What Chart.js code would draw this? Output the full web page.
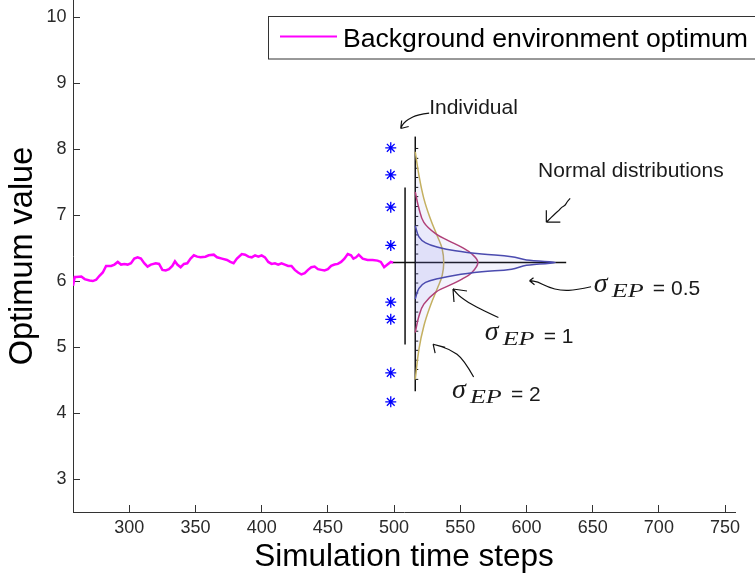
<!DOCTYPE html>
<html>
<head>
<meta charset="utf-8">
<script src="https://cdn.jsdelivr.net/npm/chart.js@4.4.1/dist/chart.umd.min.js"></script>
<style>
html, body { margin: 0; padding: 0; background: #fff; }
canvas { display: block; }
</style>
</head>
<body>
<canvas id="chart" width="755" height="579"></canvas>
<script>
// axis ticks
const xTicks = [300, 350, 400, 450, 500, 550, 600, 650, 700, 750];
const yTicks = [3, 4, 5, 6, 7, 8, 9, 10];

// background environment optimum (random walk)
const optimumX = [257.5, 258.8, 260, 263.8, 266.3, 270, 272.5, 275, 277.5, 280, 282.5, 286.3, 288.8, 291.3, 293.8, 296.3,
    298.8, 301.3, 303.8, 306.3, 308.8, 311.3, 313.8, 316.3, 320, 322.5, 325, 327.5, 330, 332.5, 334.5, 336.3, 338.8,
    341.3, 343.8, 346.3, 348.8, 351.3, 353.8, 357.5, 360, 363.8, 366.3, 370, 373.8, 376.3, 378.8, 381.3, 385, 387.5,
    390, 392.5, 395, 397.5, 400, 402.5, 405, 407.5, 410, 412.5, 415, 417.5, 420, 422.5, 425, 427.5, 430, 432.5, 435,
    437.5, 440, 442.5, 445, 447.5, 450, 452.5, 455, 457.5, 460, 462.5, 465, 467.5, 469.3, 471.3, 473.3, 476.3, 480,
    483.8, 487.5, 490, 492.5, 495, 497.5, 499.3];
const optimumY = [5.93, 6.06, 6.06, 6.07, 6.03, 6.01, 6.0, 6.02, 6.08, 6.13, 6.23, 6.23, 6.25, 6.29, 6.25, 6.26,
    6.25, 6.27, 6.34, 6.36, 6.34, 6.27, 6.22, 6.25, 6.27, 6.26, 6.17, 6.16, 6.18, 6.23, 6.3, 6.25, 6.21,
    6.26, 6.27, 6.34, 6.39, 6.37, 6.36, 6.37, 6.39, 6.4, 6.36, 6.34, 6.32, 6.29, 6.27, 6.34, 6.41, 6.4,
    6.37, 6.36, 6.39, 6.37, 6.39, 6.36, 6.29, 6.26, 6.27, 6.25, 6.27, 6.25, 6.23, 6.23, 6.17, 6.13, 6.1, 6.12, 6.17,
    6.21, 6.22, 6.18, 6.17, 6.16, 6.18, 6.23, 6.25, 6.26, 6.29, 6.34, 6.41, 6.39, 6.34, 6.36, 6.4, 6.34, 6.32,
    6.32, 6.31, 6.29, 6.21, 6.25, 6.29, 6.28];

// individuals
const individualX = 497.5;
const individualY = [8.02, 7.61, 7.12, 6.54, 5.68, 5.42, 4.61, 4.17];

// normal distributions drawn sideways on the inset axis
const sigma05X = [516, 518.8, 523.8, 533.8, 546.3, 566.3, 588.8, 600, 621.8, 600, 588.8, 566.3, 546.3, 533.8, 523.8, 518.8, 516];
const sigma05Y = [6.84, 6.67, 6.58, 6.51, 6.46, 6.41, 6.37, 6.32, 6.28, 6.24, 6.18, 6.14, 6.09, 6.04, 5.98, 5.89, 5.73];
const sigma1X = [516, 518.8, 522.5, 531.3, 541.3, 551.3, 558.8, 563.3, 558.8, 551.3, 541.3, 531.3, 522.5, 518.8, 516];
const sigma1Y = [7.35, 7.1, 6.89, 6.72, 6.61, 6.51, 6.41, 6.28, 6.13, 6.03, 5.93, 5.83, 5.65, 5.47, 5.22];
const sigma2X = [516, 518.8, 522.5, 527.5, 532.5, 536.3, 537.5, 536.3, 532.5, 527.5, 522.5, 518.8, 516];
const sigma2Y = [7.96, 7.6, 7.25, 6.94, 6.69, 6.49, 6.28, 6.08, 5.88, 5.63, 5.32, 4.97, 4.51];

// inset axes
const insetAxisX = 516;
const insetAxisY = [4.33, 8.19];
const insetTickY = [8.01, 7.86, 7.71, 7.57, 7.42, 7.28, 7.13, 6.98, 6.84, 6.7, 6.55, 6.41, 6.11, 5.97, 5.82, 5.68,
    5.53, 5.39, 5.24, 5.09, 4.95, 4.8, 4.66, 4.51];
const meanLineX = [498.8, 630];
const meanLineY = 6.28;
const rangeLineX = 508.3;
const rangeLineY = [5.04, 7.42];

// annotations (data units)
const arrowIndividual = [[526.5, 8.545], [517.5, 8.522], [510.8, 8.454], [507.0, 8.393], [505.0, 8.312]];
const arrowNormal = [[633.0, 7.253], [630.5, 7.2], [629.5, 7.15], [626.5, 7.12], [624.5, 7.07], [622.5, 7.04], [615.0, 6.892]];
const arrowSigma05 = [[648.8, 5.914], [637.5, 5.864], [626.3, 5.854], [616.5, 5.907], [608.3, 5.99], [602.3, 6.006]];
const arrowSigma1 = [[578.8, 5.448], [562.5, 5.6], [550.0, 5.752], [544.5, 5.88]];
const arrowSigma2 = [[560.1, 4.546], [552.6, 4.815], [542.5, 4.967], [529.5, 5.043]];
const sigmaLabels = [
    { x: 650.9, y: 5.793, value: '0.5' },
    { x: 568.4, y: 5.063, value: '1' },
    { x: 543.7, y: 4.181, value: '2' }
];

const pts = (xs, ys) => xs.map((x, i) => ({ x: x, y: ys[i] }));
const fixedLine = (p, color) => ({
    data: p, borderColor: color, borderWidth: 1.5, pointRadius: 0, tension: 0, fill: false
});
const curve = (xs, ys, color) => ({
    data: pts(xs, ys), borderColor: color, borderWidth: 1.5, pointRadius: 0, tension: 0.4,
    fill: 'shape', backgroundColor: 'rgba(110, 110, 235, 0.08)'
});

const legendPlugin = {
    id: 'boxLegend',
    afterDraw: function (chart) {
        const ctx = chart.ctx;
        const ds = chart.data.datasets[0];
        ctx.save();
        ctx.fillStyle = '#fff';
        ctx.strokeStyle = '#333';
        ctx.lineWidth = 1;
        ctx.fillRect(268.5, 16.5, 495, 42.5);
        ctx.strokeRect(268.5, 16.5, 495, 42.5);
        ctx.strokeStyle = ds.borderColor;
        ctx.lineWidth = 2;
        ctx.beginPath();
        ctx.moveTo(280, 36.5);
        ctx.lineTo(337, 36.5);
        ctx.stroke();
        ctx.fillStyle = '#000';
        ctx.font = '26.6px "Liberation Sans", Arial, sans-serif';
        ctx.textBaseline = 'alphabetic';
        ctx.fillText(ds.label, 343, 46.5);
        ctx.restore();
    }
};

function drawArrow(ctx, sx, sy, list, head) {
    const p = list.map((v) => ({ x: sx.getPixelForValue(v[0]), y: sy.getPixelForValue(v[1]) }));
    ctx.beginPath();
    ctx.moveTo(p[0].x, p[0].y);
    for (let i = 1; i < p.length - 1; i++) {
        ctx.quadraticCurveTo(p[i].x, p[i].y, (p[i].x + p[i + 1].x) / 2, (p[i].y + p[i + 1].y) / 2);
    }
    const t = p[p.length - 1];
    ctx.lineTo(t.x, t.y);
    head.forEach((h) => {
        ctx.moveTo(t.x, t.y);
        ctx.lineTo(t.x + h[0], t.y + h[1]);
    });
    ctx.stroke();
}

const annotationPlugin = {
    id: 'annotations',
    afterDatasetsDraw: function (chart) {
        const ctx = chart.ctx;
        const sx = chart.scales.x;
        const sy = chart.scales.y;
        ctx.save();
        ctx.strokeStyle = '#111';
        ctx.lineWidth = 1.2;
        drawArrow(ctx, sx, sy, arrowIndividual, [[1, -8], [8, -2]]);
        drawArrow(ctx, sx, sy, arrowNormal, [[14, 0], [0, -12]]);
        drawArrow(ctx, sx, sy, arrowSigma05, [[5, 4], [4, -3]]);
        drawArrow(ctx, sx, sy, arrowSigma1, [[14, 2], [1, 13]]);
        drawArrow(ctx, sx, sy, arrowSigma2, [[12, 3], [2, 9]]);

        ctx.fillStyle = '#1a1a1a';
        ctx.textBaseline = 'alphabetic';
        ctx.font = '21px "Liberation Sans", Arial, sans-serif';
        ctx.fillText('Individual', sx.getPixelForValue(526.5), sy.getPixelForValue(8.53));
        ctx.fillText('Normal distributions', sx.getPixelForValue(608.8), sy.getPixelForValue(7.572));

        sigmaLabels.forEach((l) => {
            const x = sx.getPixelForValue(l.x);
            const y = sy.getPixelForValue(l.y);
            ctx.font = 'italic 28px "Liberation Serif", "DejaVu Serif", serif';
            ctx.fillText('\u03c3', x, y - 3);
            ctx.save();
            ctx.translate(x + 18, y + 2);
            ctx.scale(1.45, 1);
            ctx.font = 'italic 18px "Liberation Serif", "DejaVu Serif", serif';
            ctx.fillText('EP', 0, 0);
            ctx.restore();
            ctx.font = '21px "Liberation Sans", Arial, sans-serif';
            ctx.fillText('= ' + l.value, x + 59, y);
        });
        ctx.restore();
    }
};

const axisFont = { family: '"Liberation Sans", Arial, sans-serif', size: 18 };

new Chart(document.getElementById('chart').getContext('2d'), {
    type: 'line',
    data: {
        datasets: [
            {
                label: 'Background environment optimum',
                data: pts(optimumX, optimumY),
                borderColor: '#ff00ff',
                borderWidth: 2.5,
                pointRadius: 0,
                tension: 0,
                fill: false
            },
            {
                label: 'Individual',
                data: individualY.map((y) => ({ x: individualX, y: y })),
                showLine: false,
                pointStyle: 'star',
                pointRadius: 5.5,
                borderColor: '#0000ff',
                borderWidth: 1.3
            },
            curve(sigma05X, sigma05Y, 'rgb(75, 75, 175)'),
            curve(sigma1X, sigma1Y, 'rgb(176, 64, 120)'),
            curve(sigma2X, sigma2Y, 'rgb(196, 176, 96)'),
            fixedLine(insetAxisY.map((y) => ({ x: insetAxisX, y: y })), '#111'),
            fixedLine(meanLineX.map((x) => ({ x: x, y: meanLineY })), '#111'),
            fixedLine(rangeLineY.map((y) => ({ x: rangeLineX, y: y })), '#111'),
            {
                label: 'ticks',
                data: insetTickY.map((y) => ({ x: insetAxisX, y: y })),
                showLine: false,
                pointStyle: 'dash',
                pointRadius: 3,
                borderColor: '#111',
                borderWidth: 1
            }
        ]
    },
    options: {
        responsive: false,
        animation: false,
        layout: { autoPadding: false, padding: { left: 0, right: 20, top: 0, bottom: 0 } },
        plugins: {
            legend: { display: false },
            tooltip: { enabled: false }
        },
        scales: {
            x: {
                type: 'linear',
                min: 257.5,
                max: 757.5,
                afterBuildTicks: (s) => { s.ticks = xTicks.map((v) => ({ value: v })); },
                afterFit: (s) => { s.height = 67; s.paddingLeft = 0; s.paddingRight = 0; },
                grid: { drawOnChartArea: false, drawTicks: true, tickLength: -7, tickColor: '#333', tickWidth: 1 },
                border: { color: '#333', width: 1 },
                ticks: { font: axisFont, color: '#2a2a2a', padding: 12, maxRotation: 0, autoSkip: false },
                title: {
                    display: true, text: 'Simulation time steps', color: '#000', padding: { top: 0, bottom: 3 },
                    font: { family: '"Liberation Sans", Arial, sans-serif', size: 31.5 }
                }
            },
            y: {
                type: 'linear',
                min: 2.5,
                max: 10.26,
                afterBuildTicks: (s) => { s.ticks = yTicks.map((v) => ({ value: v })); },
                afterFit: (s) => { s.width = 73; s.paddingTop = 0; s.paddingBottom = 0; },
                grid: { drawOnChartArea: false, drawTicks: true, tickLength: -7, tickColor: '#333', tickWidth: 1 },
                border: { color: '#333', width: 1 },
                ticks: { font: axisFont, color: '#2a2a2a', padding: 13.5, autoSkip: false },
                title: {
                    display: true, text: 'Optimum value', color: '#000', padding: { top: 4, bottom: 0 },
                    font: { family: '"Liberation Sans", Arial, sans-serif', size: 32.5 }
                }
            }
        }
    },
    plugins: [legendPlugin, annotationPlugin]
});
</script>
</body>
</html>
